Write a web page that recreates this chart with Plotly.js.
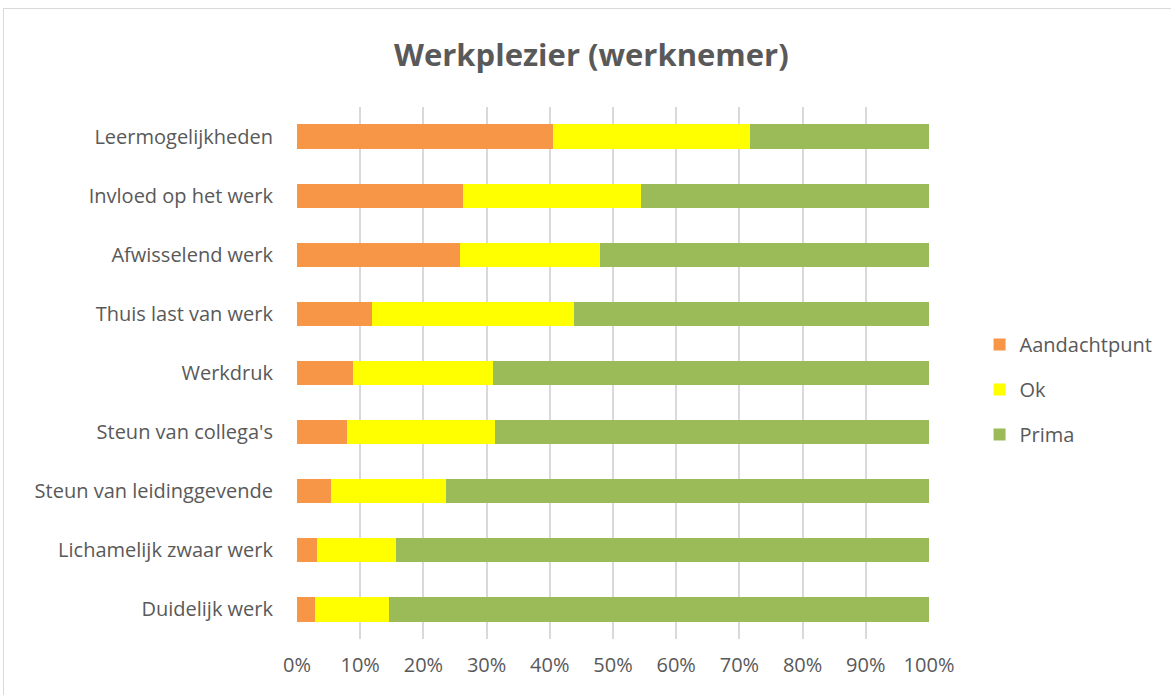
<!DOCTYPE html>
<html>
<head>
<meta charset="utf-8">
<script src="https://cdn.plot.ly/plotly-3.0.1.min.js"></script>
<style>
html,body{margin:0;padding:0;background:#fff;}
#frame{position:absolute;left:3px;top:8px;width:1200px;height:720px;border:1px solid #d9d9d9;box-sizing:border-box;pointer-events:none;z-index:5;}
#chart{width:1171px;height:695px;}
</style>
</head>
<body>
<div id="frame"></div>
<div id="chart"></div>
<script>
var categories = ["Leermogelijkheden","Invloed op het werk","Afwisselend werk","Thuis last van werk","Werkdruk","Steun van collega's","Steun van leidinggevende","Lichamelijk zwaar werk","Duidelijk werk"];
var aandachtpunt = [0.405,0.263,0.258,0.118,0.089,0.079,0.053,0.032,0.028];
var ok = [0.312,0.281,0.222,0.320,0.221,0.235,0.183,0.125,0.118];
var prima = [0.283,0.456,0.520,0.562,0.690,0.686,0.764,0.843,0.854];
var seriesNames = ["Aandachtpunt","Ok","Prima"];
var colors = ["#f79646","#ffff00","#9bbb59"];
var tickVals = [0,0.1,0.2,0.3,0.4,0.5,0.6,0.7,0.8,0.9,1.0];
var tickText = ["0%","10%","20%","30%","40%","50%","60%","70%","80%","90%","100%"];

var font = "Open Sans, sans-serif";
var series = [aandachtpunt, ok, prima];
var traces = series.map(function(v,i){
  return {type:"bar", orientation:"h", name:seriesNames[i], legendgroup:"g"+i, x:v, y:categories,
    marker:{color:colors[i], line:{width:0}}, hoverinfo:"x+y+name"};
});
var layout = {
  width:1171, height:695,
  margin:{l:297, r:242, t:107, b:56, pad:0},
  paper_bgcolor:"#ffffff", plot_bgcolor:"#ffffff",
  barmode:"stack", bargap:0.59,
  title:{text:"<b>Werkplezier (werknemer)</b>", x:0.505, xanchor:"center", y:0.92, yanchor:"middle",
    font:{family:font, size:31, color:"#595959"}},
  font:{family:font, size:20, color:"#595959"},
  xaxis:{range:[0,1], tickvals:tickVals, ticktext:tickText, showgrid:true, gridcolor:"#d9d9d9", gridwidth:1.5,
    zeroline:false, showline:false, ticks:"", ticklabelstandoff:12, tickfont:{family:font, size:20, color:"#595959"}, fixedrange:true},
  yaxis:{autorange:"reversed", showgrid:false, zeroline:false, showline:false, ticks:"", ticklabelstandoff:23,
    tickfont:{family:font, size:20, color:"#595959"}, fixedrange:true},
  legend:{x:1.08, xanchor:"left", y:0.469, yanchor:"middle", traceorder:"grouped", tracegroupgap:16,
    itemwidth:30, font:{family:font, size:20, color:"#595959"}, bgcolor:"rgba(0,0,0,0)"},
  showlegend:true
};
Plotly.newPlot("chart", traces, layout, {displayModeBar:false, staticPlot:false});
</script>
</body>
</html>
